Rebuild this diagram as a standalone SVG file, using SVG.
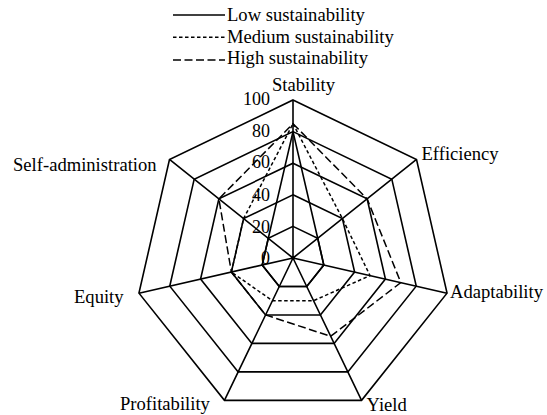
<svg xmlns="http://www.w3.org/2000/svg" width="547" height="415" viewBox="0 0 547 415">
<style>
text{font-family:"Liberation Serif","Times New Roman",serif;fill:#000}
.lbl{font-size:18.6px}
.num{font-size:18px;text-anchor:end}
.grid{fill:none;stroke:#000;stroke-width:1.6;stroke-linejoin:miter}
.low{fill:none;stroke:#000;stroke-width:1.6}
.med{fill:none;stroke:#000;stroke-width:1.5;stroke-dasharray:3.5 2.5}
.high{fill:none;stroke:#000;stroke-width:1.5;stroke-dasharray:8 3.5}
</style>
<rect width="547" height="415" fill="#fff"/>
<g id="grid">
<polygon class="grid" points="293,100 416.53,159.49 447.04,293.16 361.55,400.35 224.45,400.35 138.96,293.16 169.47,159.49"/>
<polygon class="grid" points="293,131.6 391.82,179.19 416.23,286.13 347.84,371.88 238.16,371.88 169.77,286.13 194.18,179.19"/>
<polygon class="grid" points="293,163.2 367.12,198.89 385.42,279.10 334.13,343.41 251.87,343.41 200.58,279.10 218.88,198.89"/>
<polygon class="grid" points="293,194.8 342.41,218.60 354.62,272.06 320.42,314.94 265.58,314.94 231.38,272.06 243.59,218.60"/>
<polygon class="grid" points="293,226.4 317.71,238.30 323.81,265.03 306.71,286.47 279.29,286.47 262.19,265.03 268.29,238.30"/>
<path class="grid" d="M293,258L293,100M293,258L416.53,159.49M293,258L447.04,293.16M293,258L361.55,400.35M293,258L224.45,400.35M293,258L138.96,293.16M293,258L169.47,159.49"/>
</g>
<g id="series">
<polygon id="low" class="low" points="293,131.6 317.71,238.30 323.81,265.03 306.71,286.47 279.29,286.47 262.19,265.03 268.29,238.30"/>
<polygon id="medium" class="med" points="293,123.7 342.41,218.60 370.02,275.58 313.57,300.71 272.43,300.71 231.38,272.06 243.59,218.60"/>
<polygon id="high" class="high" points="293,123.7 367.12,198.89 400.83,282.61 330.70,336.29 265.58,314.94 231.38,272.06 218.88,198.89"/>
</g>
<g id="scale">
<text class="num" x="270" y="104.5">100</text>
<text class="num" x="270" y="136.5">80</text>
<text class="num" x="270" y="168">60</text>
<text class="num" x="270" y="200.5">40</text>
<text class="num" x="270" y="232.5">20</text>
<text class="num" x="270" y="264">0</text>
</g>
<g id="axis-labels">
<g id="stability"><text class="lbl" x="272" y="91">Stability</text></g>
<g id="efficiency"><text class="lbl" x="421.5" y="159.5">Efficiency</text></g>
<g id="adaptability"><text class="lbl" x="450" y="298">Adaptability</text></g>
<g id="yield"><text class="lbl" x="366.5" y="411">Yield</text></g>
<g id="profitability"><text class="lbl" x="120" y="409.5">Profitability</text></g>
<g id="equity"><text class="lbl" x="74" y="303">Equity</text></g>
<g id="self-administration"><text class="lbl" x="13" y="170.5">Self-administration</text></g>
</g>
<g id="legend">
<line class="low" x1="173" y1="15" x2="225" y2="15"/>
<text class="lbl" x="227" y="20.7">Low sustainability</text>
<line class="med" x1="173" y1="37.3" x2="225" y2="37.3"/>
<text class="lbl" x="227" y="42.7">Medium sustainability</text>
<line class="high" x1="173" y1="60" x2="225" y2="60"/>
<text class="lbl" x="227" y="64.3">High sustainability</text>
</g>
</svg>
